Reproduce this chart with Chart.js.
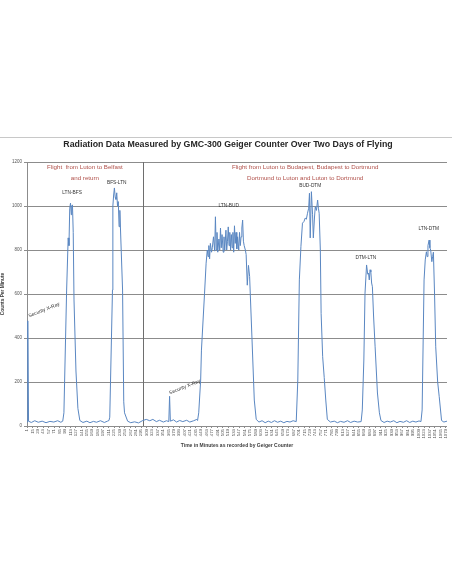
<!DOCTYPE html>
<html>
<head>
<style>
  body { margin: 0; background: #fff; }
  canvas { display: block; }
</style>
</head>
<body>
<canvas id="radChart" width="452" height="584"></canvas>
<script src="https://cdn.jsdelivr.net/npm/chart.js"></script>
<script>
const chartTitle = 'Radiation Data Measured by GMC-300 Geiger Counter Over Two Days of Flying';
const xTitle = 'Time in Minutes as recorded by Geiger Counter';
const yTitle = 'Counts Per Minute';

// minutes and counts (grouped by ground / flight)
const minutes = [
  1, 3, 5, 12, 21, 30, 40, 50, 60, 70, 80, 88, 93,
  96, 103, 107, 109, 111, 113, 115, 116, 118, 120, 122, 127, 132, 137,
  145, 155, 163, 172, 180, 190, 200, 208, 212,
  214, 221, 222, 224, 226, 228, 230, 232, 234, 236, 238, 240, 247, 250, 252, 260,
  268, 278, 288, 299, 308, 317, 325, 334, 342, 352, 360, 366, 368, 370, 378, 386, 394, 402, 412, 420, 430, 438, 440,
  443, 448, 450, 458, 462, 465, 467, 469, 471, 473, 476, 478, 481, 484, 486, 488, 490, 492, 495, 497,
  499, 501, 503, 506, 508, 510, 513, 515, 517, 519, 521, 523, 525, 527, 529, 531, 533, 535, 537, 539,
  541, 543, 546, 548, 550, 552, 554, 556, 558, 560, 563, 565, 568, 571, 574, 580, 586, 591,
  598, 606, 614, 622, 630, 638, 646, 654, 662, 670, 678, 686, 694,
  698, 702, 706, 710, 714, 717, 720, 723, 726, 728, 730, 733, 736, 738, 741, 743, 746, 749, 751, 753,
  756, 758, 762, 766, 770, 774,
  782, 792, 800, 808, 817, 826, 834, 843, 852, 861,
  864, 868, 871, 875, 878, 880, 882, 884, 886, 888, 890, 893, 897, 903, 908, 912,
  920, 928, 936, 945, 953, 961, 970, 978, 986, 994, 1002, 1010, 1015,
  1018, 1023, 1026, 1029, 1031, 1033, 1036, 1038, 1040, 1043, 1045, 1047, 1050, 1053, 1058, 1062, 1068, 1074, 1082
];
const counts = [
  18, 478, 22, 16, 24, 17, 22, 15, 21, 18, 24, 17, 22,
  60, 618, 855, 820, 990, 1013, 960, 1000, 1005, 880, 573, 250, 80, 25,
  16, 22, 15, 21, 17, 24, 16, 22, 25,
  40, 618, 1000, 1050, 1082, 1040, 1030, 1060, 1000, 1020, 906, 980, 618, 110, 60, 22,
  15, 19, 14, 25, 30, 24, 30, 20, 26, 18, 24, 20, 135, 22, 28, 18, 25, 20, 26, 18, 24, 30, 25,
  60, 209, 345, 604, 740, 800, 770, 820, 760, 830, 790, 810, 860, 795, 951, 800, 880, 790, 850, 800,
  900, 810, 870, 790, 860, 800, 890, 800, 840, 905, 820, 880, 800, 870, 810, 880, 790, 910, 830, 880,
  805, 860, 800, 880, 820, 860, 900, 936, 840, 820, 800, 780, 640, 730, 680, 400, 118, 30,
  18, 24, 15, 22, 16, 24, 17, 22, 15, 21, 18, 24, 20,
  209, 664, 815, 922, 930, 945, 940, 967, 990, 1058, 855, 1065, 960, 855, 950, 997, 980, 1027, 990, 967,
  800, 512, 315, 220, 118, 30,
  18, 22, 15, 21, 17, 24, 16, 22, 18, 20,
  73, 300, 604, 732, 690, 695, 664, 710, 700, 650, 633, 500, 360, 150, 60, 25,
  16, 22, 18, 24, 15, 21, 17, 24, 16, 22, 18, 23, 20,
  73, 664, 755, 792, 770, 820, 845, 810, 800, 747, 770, 790, 600, 360, 200, 133, 25, 18, 22
];

// x tick labels: every 14th minute
const tickStart = 1;
const tickStep = 14;
const tickEnd = 1079;
const xMax = 1082;
const yMax = 1200;
const yStep = 200;

// vertical line between the two days
const dayBreakMinute = 299;

// flight labels, placed at (minute, counts)
const flightNames = ['LTN-BFS', 'BFS-LTN', 'LTN-BUD', 'BUD-DTM', 'DTM-LTN', 'LTN-DTM'];
const flightNameMinutes = [117, 232, 520, 730, 873, 1035];
const flightNameCounts = [1059, 1105, 1000, 1091, 764, 895];

const xrayNote = 'Security X-Ray';
const xrayMinutes = [45, 407];
const xrayCounts = [527, 177];

const dayNotes = [
  ['Flight  from Luton to Belfast', 'and return'],
  ['Flight from Luton to Budapest, Budapest to Dortmund', 'Dortmund to Luton and Luton to Dortmund']
];
const dayNoteMinutes = [150, 717];
const dayNoteCounts = [1177, 1127];

const tickMinutes = [];
for (let m = tickStart; m <= tickEnd; m += tickStep) tickMinutes.push(m);

const points = minutes.map((m, i) => ({ x: m, y: counts[i] }));

const decorations = {
  id: 'decorations',
  beforeDraw(chart) {
    const ctx = chart.ctx;
    ctx.save();
    ctx.fillStyle = '#fff';
    ctx.fillRect(0, 0, chart.width, chart.height);
    ctx.strokeStyle = '#c8c8c8';
    ctx.lineWidth = 1;
    ctx.beginPath();
    ctx.moveTo(0, 137.5);
    ctx.lineTo(chart.width, 137.5);
    ctx.stroke();
    ctx.fillStyle = '#262626';
    ctx.font = 'bold 8.8px "Liberation Sans", Arial, sans-serif';
    ctx.textAlign = 'center';
    ctx.textBaseline = 'middle';
    ctx.fillText(chartTitle, 228, 145);
    ctx.restore();
  },
  beforeDatasetsDraw(chart) {
    const ctx = chart.ctx;
    const x = Math.round(chart.scales.x.getPixelForValue(dayBreakMinute)) + 0.5;
    ctx.save();
    ctx.strokeStyle = '#6e6e6e';
    ctx.lineWidth = 1;
    ctx.beginPath();
    ctx.moveTo(x, chart.chartArea.top);
    ctx.lineTo(x, chart.chartArea.bottom);
    ctx.stroke();
    ctx.restore();
  },
  afterDatasetsDraw(chart) {
    const ctx = chart.ctx;
    const xs = chart.scales.x, ys = chart.scales.y;
    ctx.save();
    ctx.textAlign = 'center';
    ctx.textBaseline = 'middle';

    ctx.fillStyle = '#333';
    ctx.font = '4.8px "Liberation Sans", Arial, sans-serif';
    flightNames.forEach((name, i) => {
      ctx.fillText(name, xs.getPixelForValue(flightNameMinutes[i]), ys.getPixelForValue(flightNameCounts[i]));
    });

    ctx.font = '5px "Liberation Sans", Arial, sans-serif';
    xrayMinutes.forEach((m, i) => {
      ctx.save();
      ctx.translate(xs.getPixelForValue(m), ys.getPixelForValue(xrayCounts[i]));
      ctx.rotate(-22 * Math.PI / 180);
      ctx.fillText(xrayNote, 0, 0);
      ctx.restore();
    });

    ctx.fillStyle = '#b0504a';
    ctx.font = '6.2px "Liberation Sans", Arial, sans-serif';
    dayNotes.forEach((lines, i) => {
      const cx = xs.getPixelForValue(dayNoteMinutes[i]);
      ctx.fillText(lines[0], cx, ys.getPixelForValue(dayNoteCounts[0]));
      ctx.fillText(lines[1], cx, ys.getPixelForValue(dayNoteCounts[1]));
    });
    ctx.restore();
  }
};

new Chart(document.getElementById('radChart'), {
  type: 'line',
  data: {
    datasets: [{
      data: points,
      borderColor: '#5a87c2',
      borderWidth: 1,
      pointRadius: 0,
      fill: false,
      tension: 0
    }]
  },
  options: {
    responsive: false,
    animation: false,
    layout: { padding: { top: 162, left: 0, right: 4, bottom: 135 } },
    plugins: { legend: { display: false }, tooltip: { enabled: false } },
    scales: {
      x: {
        type: 'linear',
        min: tickStart,
        max: xMax,
        afterBuildTicks: s => { s.ticks = tickMinutes.map(v => ({ value: v })); },
        afterFit: s => { s.height = 23; },
        ticks: {
          autoSkip: false,
          minRotation: 90,
          maxRotation: 90,
          padding: 1,
          color: '#555',
          callback: v => String(v),
          font: { size: 4.3, family: '"Liberation Sans", Arial, sans-serif' }
        },
        grid: { drawOnChartArea: false, tickLength: 2, color: '#8c8c8c' },
        border: { color: '#8c8c8c' },
        title: {
          display: true,
          text: xTitle,
          color: '#404040',
          padding: 0,
          font: { size: 5, weight: 'bold', family: '"Liberation Sans", Arial, sans-serif' }
        }
      },
      y: {
        min: 0,
        max: yMax,
        afterFit: s => { s.width = 27; },
        ticks: {
          stepSize: yStep,
          padding: 2,
          color: '#555',
          callback: v => String(v),
          font: { size: 4.5, family: '"Liberation Sans", Arial, sans-serif' }
        },
        grid: { color: '#8c8c8c', tickLength: 3 },
        border: { color: '#8c8c8c' },
        title: {
          display: true,
          text: yTitle,
          color: '#404040',
          padding: 0,
          font: { size: 4.8, weight: 'bold', family: '"Liberation Sans", Arial, sans-serif' }
        }
      }
    }
  },
  plugins: [decorations]
});
</script>
</body>
</html>
